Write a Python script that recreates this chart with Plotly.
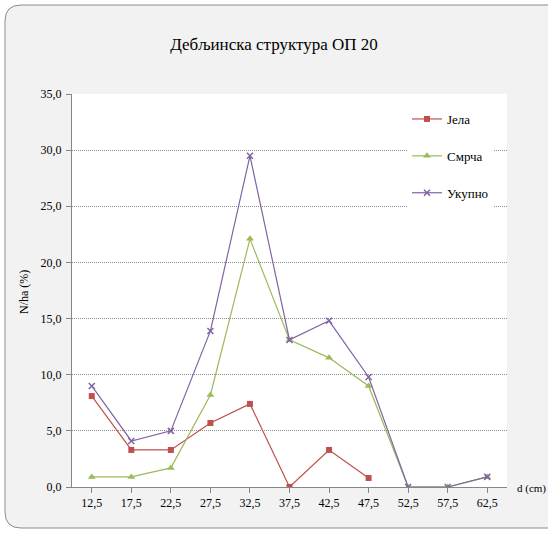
import plotly.graph_objects as go

categories = ["12,5", "17,5", "22,5", "27,5", "32,5", "37,5", "42,5", "47,5", "52,5", "57,5", "62,5"]
jela = [8.1, 3.3, 3.3, 5.7, 7.4, 0.0, 3.3, 0.8, None, None, None]
smrca = [0.9, 0.9, 1.7, 8.2, 22.1, 13.1, 11.5, 9.0, 0.0, 0.0, 0.9]
ukupno = [9.0, 4.1, 5.0, 13.9, 29.5, 13.1, 14.8, 9.8, 0.0, 0.0, 0.9]
y_ticks = [0, 5, 10, 15, 20, 25, 30, 35]
y_ticktext = ["0,0", "5,0", "10,0", "15,0", "20,0", "25,0", "30,0", "35,0"]

W, H = 548, 533
L, R, T, B = 72, 507, 94, 487
FONT = "Liberation Serif, Times New Roman, serif"

def px(xp):
    return (xp - L) / (R - L)

def py(yp):
    return (B - yp) / (B - T)

fig = go.Figure()
fig.add_trace(go.Scatter(
    x=categories, y=jela, name="Јела", mode="lines+markers",
    line=dict(color="#C0504D", width=1.2),
    marker=dict(symbol="square", size=6, color="#C0504D"),
    legendgroup="a",
))
fig.add_trace(go.Scatter(
    x=categories, y=smrca, name="Смрча", mode="lines+markers",
    line=dict(color="#9BBB59", width=1.2),
    marker=dict(symbol="triangle-up", size=7, color="#9BBB59"),
    legendgroup="b",
))
fig.add_trace(go.Scatter(
    x=categories, y=ukupno, name="Укупно", mode="lines+markers",
    line=dict(color="#8064A2", width=1.2),
    marker=dict(symbol="x-thin", size=6, color="#8064A2",
                line=dict(color="#8064A2", width=1.5)),
    legendgroup="c",
))

# rounded chart-area border
r = 16
x0, y0, x1, y1 = 5, 5, 570, 528
path = (f"M {px(x0)},{py(y0 + r)} "
        f"Q {px(x0)},{py(y0)} {px(x0 + r)},{py(y0)} "
        f"L {px(x1 - r)},{py(y0)} "
        f"Q {px(x1)},{py(y0)} {px(x1)},{py(y0 + r)} "
        f"L {px(x1)},{py(y1 - r)} "
        f"Q {px(x1)},{py(y1)} {px(x1 - r)},{py(y1)} "
        f"L {px(x0 + r)},{py(y1)} "
        f"Q {px(x0)},{py(y1)} {px(x0)},{py(y1 - r)} Z")

fig.update_layout(
    width=W, height=H,
    margin=dict(l=L, r=W - R, t=T, b=H - B, pad=0),
    paper_bgcolor="white",
    plot_bgcolor="white",
    font=dict(family=FONT, size=12, color="#000000"),
    title=dict(text="Дебљинска структура ОП 20", x=274 / W,
               xref="container", xanchor="center",
               y=1 - 44 / H, yanchor="middle", yref="container",
               font=dict(family=FONT, size=17, color="#000000")),
    showlegend=True,
    legend=dict(x=px(407), y=py(104), xanchor="left", yanchor="top",
                bgcolor="white", borderwidth=0,
                font=dict(family=FONT, size=13, color="#000000"),
                traceorder="grouped", tracegroupgap=17,
                itemwidth=30),
    shapes=[
        dict(type="path", path=path, xref="paper", yref="paper",
             fillcolor="#F2F2F2", line=dict(color="#8C8C8C", width=1), layer="below"),
        dict(type="rect", x0=0, x1=1, y0=0, y1=1, xref="paper", yref="paper",
             fillcolor="white", line=dict(width=0), layer="below"),
    ],
    annotations=[
        dict(text="N/ha (%)", x=px(24), y=py(292), xref="paper", yref="paper",
             textangle=-90, showarrow=False, xanchor="center", yanchor="middle",
             font=dict(family=FONT, size=12, color="#000000")),
        dict(text="d (cm)", x=px(515), y=py(488), xref="paper", yref="paper",
             showarrow=False, xanchor="left", yanchor="middle",
             font=dict(family=FONT, size=11, color="#000000")),
    ],
)

fig.update_xaxes(
    type="category", range=[-0.5, 10.5],
    showgrid=False, showline=True, linecolor="#868686", linewidth=1,
    ticks="outside", ticklen=5, tickcolor="#868686",
    tickfont=dict(family=FONT, size=12, color="#000000"),
    fixedrange=True,
)
fig.update_yaxes(
    range=[0, 35], tickvals=y_ticks, ticktext=y_ticktext,
    showgrid=True, gridcolor="#8C8C8C", griddash="1px,1px", gridwidth=1,
    zeroline=False,
    showline=True, linecolor="#868686", linewidth=1,
    ticks="outside", ticklen=5, tickcolor="#868686",
    ticklabelstandoff=2,
    tickfont=dict(family=FONT, size=12, color="#000000"),
    fixedrange=True,
)

fig.write_html("out.html",
               config={"displayModeBar": False},
               post_script="document.body.style.margin='0';document.body.style.padding='0';")
